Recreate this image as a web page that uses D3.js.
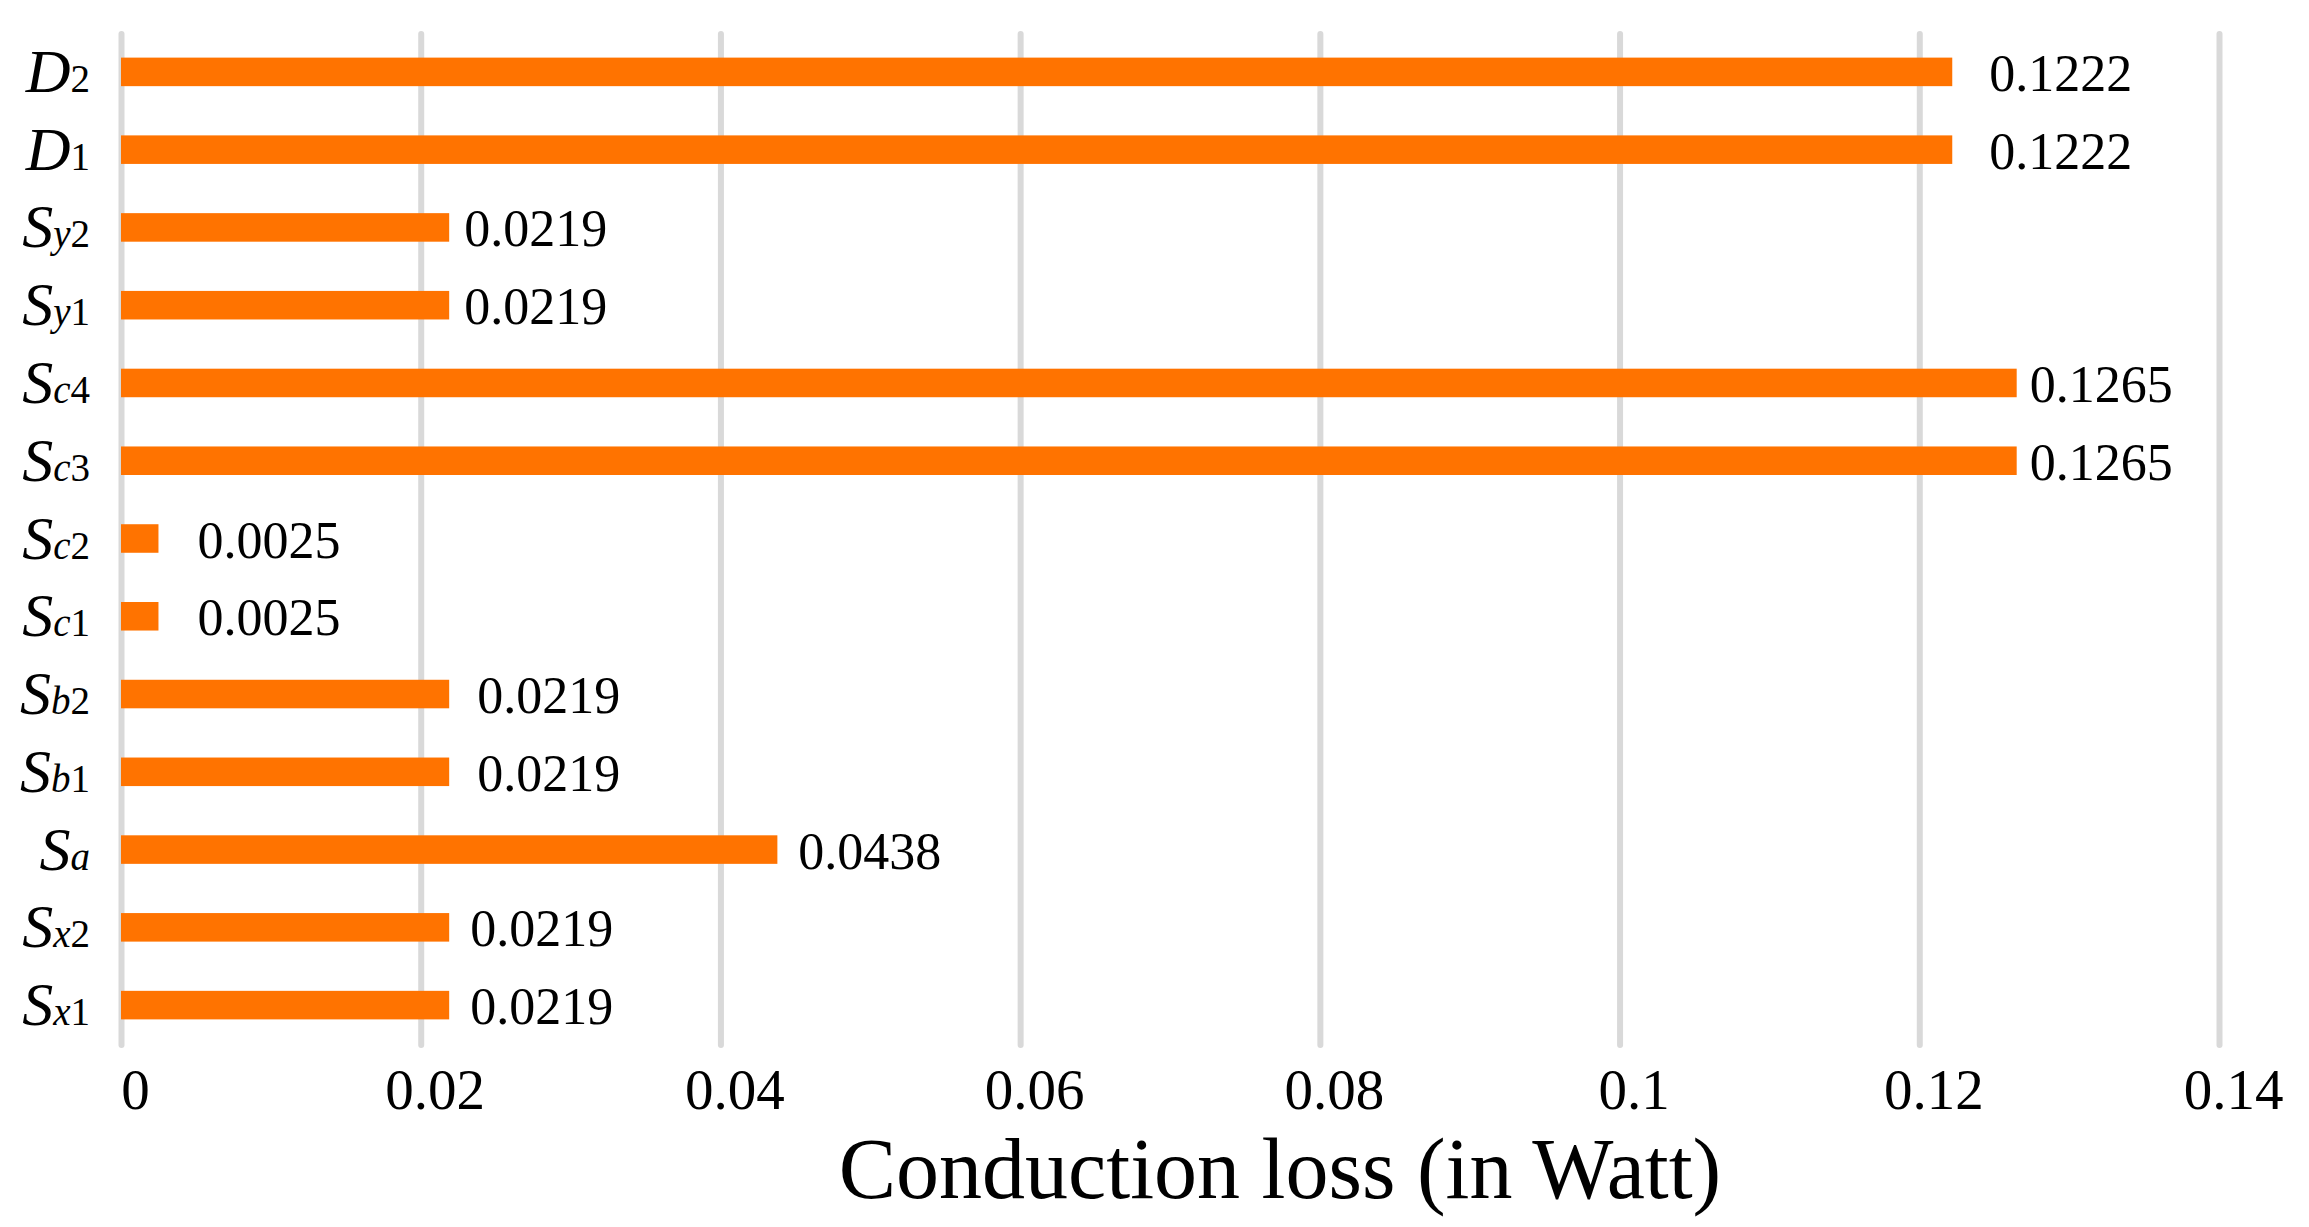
<!DOCTYPE html>
<html>
<head>
<meta charset="utf-8">
<script src="https://cdn.jsdelivr.net/npm/d3@7"></script>
<style>
  html, body { margin: 0; padding: 0; background: #ffffff; }
  svg { display: block; }
  text { font-family: "Liberation Serif", "Times New Roman", serif; fill: #000; }
</style>
</head>
<body>
<svg id="chart" width="2309" height="1227"></svg>
<script>
// ---- data ----
const categories = ["D2", "D1", "Sy2", "Sy1", "Sc4", "Sc3", "Sc2", "Sc1", "Sb2", "Sb1", "Sa", "Sx2", "Sx1"];
const catBase    = ["D", "D", "S", "S", "S", "S", "S", "S", "S", "S", "S", "S", "S"];
const catSub     = ["2", "1", "y2", "y1", "c4", "c3", "c2", "c1", "b2", "b1", "a", "x2", "x1"];
const values     = [0.1222, 0.1222, 0.0219, 0.0219, 0.1265, 0.1265, 0.0025, 0.0025, 0.0219, 0.0219, 0.0438, 0.0219, 0.0219];
const tickValues = [0, 0.02, 0.04, 0.06, 0.08, 0.1, 0.12, 0.14];
const tickLabels = ["0", "0.02", "0.04", "0.06", "0.08", "0.1", "0.12", "0.14"];
const axisTitle  = "Conduction loss (in Watt)";
// label nudges (pixels from bar end), style only
const labelGap   = [37, 37, 15, 15, 13, 13, 39, 39, 28, 28, 21, 21, 21];

// ---- layout ----
const svg = d3.select("#chart");
const barColor = "#FF7300";
const gridColor = "#D9D9D9";
const plotTop = 34, plotBottom = 1045;

const x = d3.scaleLinear().domain([0, 0.14]).range([121, 2219]);
const y = d3.scaleBand().domain(categories).range([33, 1044])
  .paddingInner(0.633).paddingOuter(0.3165);

// gridlines
const grid = svg.append("g")
  .attr("transform", `translate(0,${plotBottom})`)
  .call(d3.axisBottom(x).tickValues(tickValues).tickSize(-(plotBottom - plotTop)).tickFormat(""));
grid.select(".domain").remove();
grid.selectAll(".tick line")
  .attr("stroke", gridColor).attr("stroke-width", 6).attr("stroke-linecap", "round");

// bars
svg.append("g").selectAll("rect")
  .data(values)
  .join("rect")
  .attr("x", x(0))
  .attr("y", (d, i) => y(categories[i]))
  .attr("width", d => x(d) - x(0))
  .attr("height", y.bandwidth())
  .attr("fill", barColor);

// value labels
const fmt = d3.format(".4f");
svg.append("g").selectAll("text")
  .data(values)
  .join("text")
  .attr("x", (d, i) => x(d) + labelGap[i])
  .attr("y", (d, i) => y(categories[i]) + y.bandwidth() / 2 + 19)
  .attr("font-size", 52)
  .text(d => fmt(d));

// x axis tick labels
const xAxis = svg.append("g")
  .attr("transform", `translate(0,${plotBottom})`)
  .call(d3.axisBottom(x).tickValues(tickValues).tickSize(0).tickFormat((d, i) => tickLabels[i]));
xAxis.select(".domain").remove();
xAxis.selectAll(".tick text")
  .attr("font-family", "Liberation Serif, serif")
  .attr("font-size", 57)
  .attr("fill", "#000")
  .attr("dx", 14)
  .attr("dy", 0)
  .attr("y", 64);

// category labels
const catG = svg.append("g");
categories.forEach((c, i) => {
  const t = catG.append("text")
    .attr("x", 90)
    .attr("y", y(c) + y.bandwidth() / 2 + 20)
    .attr("text-anchor", "end");
  t.append("tspan").attr("font-size", 62).attr("font-style", "italic").text(catBase[i]);
  catSub[i].split("").forEach(ch => {
    t.append("tspan")
      .attr("font-size", 39)
      .attr("font-style", /[a-z]/.test(ch) ? "italic" : "normal")
      .text(ch);
  });
});

// axis title
svg.append("text")
  .attr("x", 1280)
  .attr("y", 1198)
  .attr("text-anchor", "middle")
  .attr("font-size", 86)
  .text(axisTitle);
</script>
</body>
</html>
